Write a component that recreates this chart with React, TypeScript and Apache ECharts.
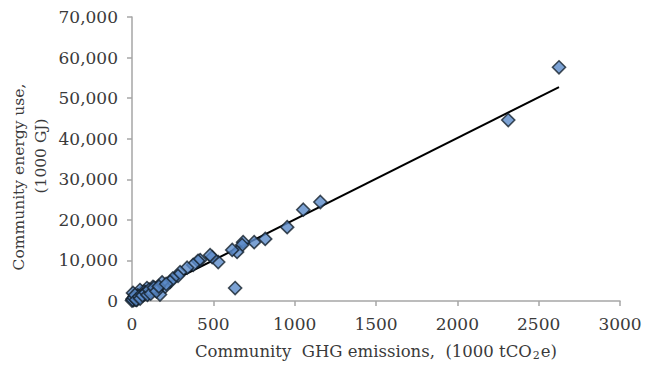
import React, { useEffect, useRef } from "react";
import * as echarts from "echarts";

// Community GHG emissions (1000 tCO2e)
const ghgValues = [
  2625, 2313, 1158, 1053, 954, 819, 751, 683, 677, 646, 616, 634, 530, 493, 480,
  419, 406, 376, 339, 296, 283, 250, 234, 203, 185, 172, 160, 140, 129, 110, 92,
  80, 70, 60, 49, 40, 35, 28, 20, 15, 10, 6, 3, 0, 30, 55, 75, 100, 120, 145,
  5, 12, 18, 25, 45, 50, 65, 85, 95, 105, 115, 135, 150, 165, 210,
];
// Community energy use (1000 GJ)
const energyValues = [
  57600, 44600, 24400, 22500, 18200, 15300, 14500, 14500, 13800, 12100, 12600,
  3200, 9600, 10800, 11300, 10100, 9900, 8900, 8200, 7100, 6200, 5500, 4700, 3500,
  4600, 1600, 3200, 3000, 3500, 2500, 3200, 1800, 1500, 2200, 2700, 900, 1400, 600,
  400, 1000, 200, 2000, 500, 100, 250, 1200, 2300, 1900, 2600, 2900,
  300, 800, 1500, 300, 1100, 600, 1400, 2100, 1500, 2800, 1800, 3300, 2400, 3600, 4200,
];
// Linear trend line end points
const trendX = [0, 2625];
const trendY = [0, 52700];

const xTicks = { min: 0, max: 3000, interval: 500 };
const yTicks = { min: 0, max: 70000, interval: 10000 };

const yTitleLines = ["Community energy use,", "(1000 GJ)"];

const FONT = "DejaVu Serif";
const TEXT = "#3a3a3a";

export default function App() {
  const ref = useRef<HTMLDivElement>(null);
  useEffect(() => {
    if (!ref.current) return;
    const chart = echarts.init(ref.current, undefined, { renderer: "svg" });
    const points = ghgValues.map((x, i) => [x, energyValues[i]]);
    const trend = trendX.map((x, i) => [x, trendY[i]]);
    const titleStyle = (text: string) => ({
      text,
      font: `15.5px "${FONT}"`,
      fill: TEXT,
      align: "center",
      verticalAlign: "middle",
      textAlign: "center",
      textVerticalAlign: "middle",
    });
    chart.setOption({
      animation: false,
      backgroundColor: "#ffffff",
      grid: { left: 132, right: 32, top: 17, bottom: 69 },
      graphic: [
        { type: "text", x: 19, y: 177, rotation: Math.PI / 2, style: titleStyle(yTitleLines[0]) },
        { type: "text", x: 41, y: 156, rotation: Math.PI / 2, style: titleStyle(yTitleLines[1]) },
      ],
      xAxis: {
        type: "value",
        min: xTicks.min,
        max: xTicks.max,
        interval: xTicks.interval,
        splitLine: { show: false },
        axisLine: { show: true, lineStyle: { color: "#a6a6a6", width: 1.5 } },
        axisTick: { show: true, length: 5, lineStyle: { color: "#a6a6a6", width: 1.5 } },
        axisLabel: {
          color: TEXT,
          fontFamily: FONT,
          fontSize: 17,
          margin: 14,
          formatter: (v: number) => String(v),
        },
        name: "{a|Community  GHG emissions,  (1000 tCO}{s|2}{a|e)}",
        nameLocation: "middle",
        nameGap: 40,
        nameTextStyle: {
          rich: {
            a: { fontFamily: FONT, fontSize: 16.5, color: TEXT },
            s: { fontFamily: FONT, fontSize: 11, color: TEXT, padding: [9, 1, 0, 1] },
          },
        },
      },
      yAxis: {
        type: "value",
        min: yTicks.min,
        max: yTicks.max,
        interval: yTicks.interval,
        splitLine: { show: false },
        axisLine: { show: true, lineStyle: { color: "#a6a6a6", width: 1.5 } },
        axisTick: { show: true, length: 5, lineStyle: { color: "#a6a6a6", width: 1.5 } },
        axisLabel: {
          color: TEXT,
          fontFamily: FONT,
          fontSize: 17,
          margin: 14,
          formatter: (v: number) => v.toLocaleString("en-US"),
        },
      },
      series: [
        {
          type: "line",
          data: trend,
          showSymbol: false,
          symbol: "none",
          lineStyle: { color: "#000000", width: 2 },
          z: 1,
        },
        {
          type: "scatter",
          data: points,
          symbol: "diamond",
          symbolSize: 13,
          itemStyle: { color: "#5b8bc9", borderColor: "#14202c", borderWidth: 1.6 },
          z: 2,
        },
      ],
    });
    return () => chart.dispose();
  }, []);
  return (
    <div
      ref={ref}
      style={{ position: "fixed", left: 0, top: 0, width: 652, height: 370 }}
    />
  );
}
